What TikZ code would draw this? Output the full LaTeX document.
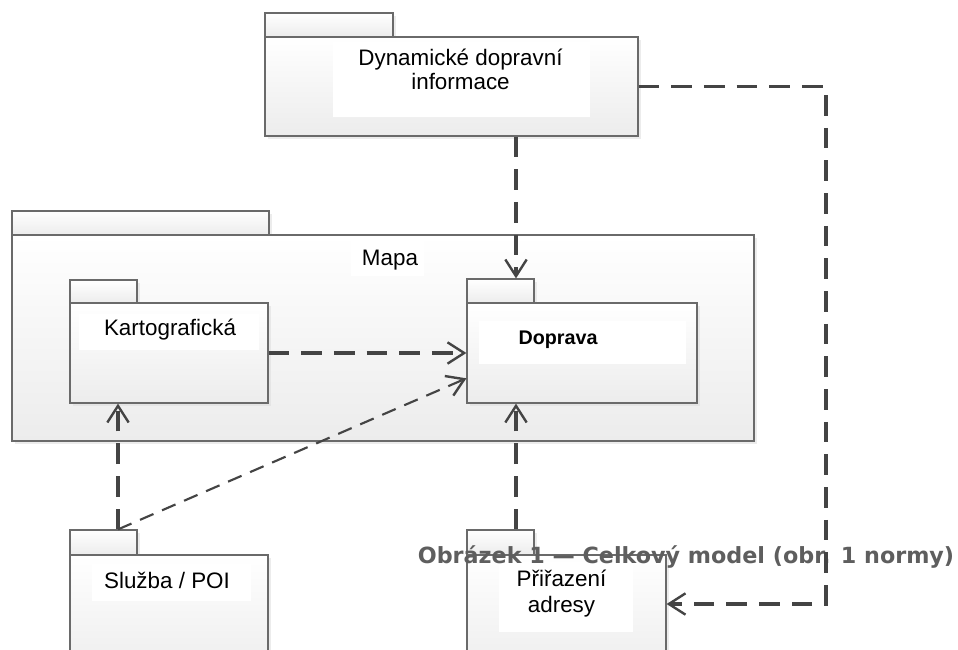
\documentclass[tikz,border=0pt]{standalone}
\usepackage{fontspec}
\setmainfont{Liberation Sans}
\newfontfamily\capfont{DejaVu Sans}
\usetikzlibrary{arrows.meta,fit,calc,shadows}
\definecolor{linegray}{HTML}{444444}
\definecolor{boxline}{HTML}{6A6A6A}
\definecolor{capgray}{HTML}{5E5E5E}
\definecolor{boxbot}{HTML}{ECECEC}
\tikzset{
  pkg/.style={draw=boxline, line width=0.9pt, top color=white, bottom color=boxbot,
    inner sep=0pt, drop shadow={shadow xshift=2pt, shadow yshift=-2pt, fill=black!14}},
  labelbg/.style={fill=white, inner sep=0pt},
  lbl/.style={font=\fontsize{16.8}{20}\selectfont, inner sep=0pt, text=black},
  dep/.style={draw=linegray, line width=2.3pt, dash pattern=on 15.5pt off 9pt,
    -{Straight Barb[length=12.5pt, width=16pt, line width=1.8pt]}},
  depthin/.style={dep, line width=1.6pt, dash pattern=on 11pt off 7pt},
}
\begin{document}
\begin{tikzpicture}[x=0.75pt, y=-0.75pt]
\useasboundingbox (0,0) rectangle (958,650);
\clip (0,0) rectangle (958,650);
\fill[white] (0,0) rectangle (958,650);
% Mapa
\node[pkg, fit={(12,211)(269,235)}] (maptab) {};
\node[pkg, fit={(12,235)(754,441)}] (map) {};
\node[labelbg, fit={(351,240)(424,276)}] (mapbg) {};
\node[lbl, anchor=base] (mapt) at (390,265) {Mapa};
% Kartograficka
\node[pkg, fit={(70,280)(137,303)}] (karttab) {};
\node[pkg, fit={(70,303)(268,403)}] (kart) {};
\node[labelbg, fit={(79,314)(259,350)}] (kartbg) {};
\node[lbl, anchor=base] (kartt) at (170,335) {Kartografická};
% Doprava
\node[pkg, fit={(467,279)(534,303)}] (doptab) {};
\node[pkg, fit={(467,303)(697,403)}] (dop) {};
\node[labelbg, fit={(479,321)(686,364)}] (dopbg) {};
\node[lbl, anchor=base, font=\fontsize{14.8}{18}\selectfont\bfseries] (dopt) at (558,344) {Doprava};
% Dynamicke
\node[pkg, fit={(265,13)(393,37)}] (dyntab) {};
\node[pkg, fit={(265,37)(638,136)}] (dyn) {};
\node[labelbg, fit={(333,42)(590,117)}] (dynbg) {};
\node[lbl, anchor=base] (dynt1) at (460.5,65) {Dynamické dopravní};
\node[lbl, anchor=base] (dynt2) at (460.5,89) {informace};
% Sluzba
\node[pkg, fit={(70,530)(137,555)}] (slutab) {};
\node[pkg, fit={(70,555)(268,680)}] (slu) {};
\node[labelbg, fit={(92,564)(251,601)}] (slubg) {};
\node[lbl, anchor=base] (slut) at (167,588) {Služba / POI};
% Prirazeni
\node[pkg, fit={(467,530)(534,555)}] (pritab) {};
\node[pkg, fit={(467,555)(666,680)}] (pri) {};
\node[labelbg, fit={(499,562)(633,632)}] (pribg) {};
\node[lbl, anchor=base] (prit1) at (561.5,586) {Přiřazení};
\node[lbl, anchor=base] (prit2) at (561.5,612) {adresy};
% caption
\node[font=\capfont\bfseries\fontsize{16.7}{20}\selectfont, text=capgray, anchor=base, inner sep=0pt]
  (cap) at (686,563) {Obrázek 1 — Celkový model (obr. 1 normy)};
% connectors
\coordinate (vx) at (516,0);
\coordinate (sx) at (118,0);
\coordinate (rt) at (826,604);
\draw[dep] (dyn.south -| vx) -- (doptab.north -| vx);
\draw[dep] (dyn.east) -| (rt) -- (pri.east |- rt);
\draw[dep] (kart.east) -- (dop.west);
\draw[dep] (slutab.north -| sx) -- (kart.south -| sx);
\draw[depthin] (slutab.north -| sx) -- ($(dop.south west)!0.25!(dop.north west)$);
\draw[dep] (pritab.north -| vx) -- (dop.south -| vx);
\end{tikzpicture}
\end{document}
